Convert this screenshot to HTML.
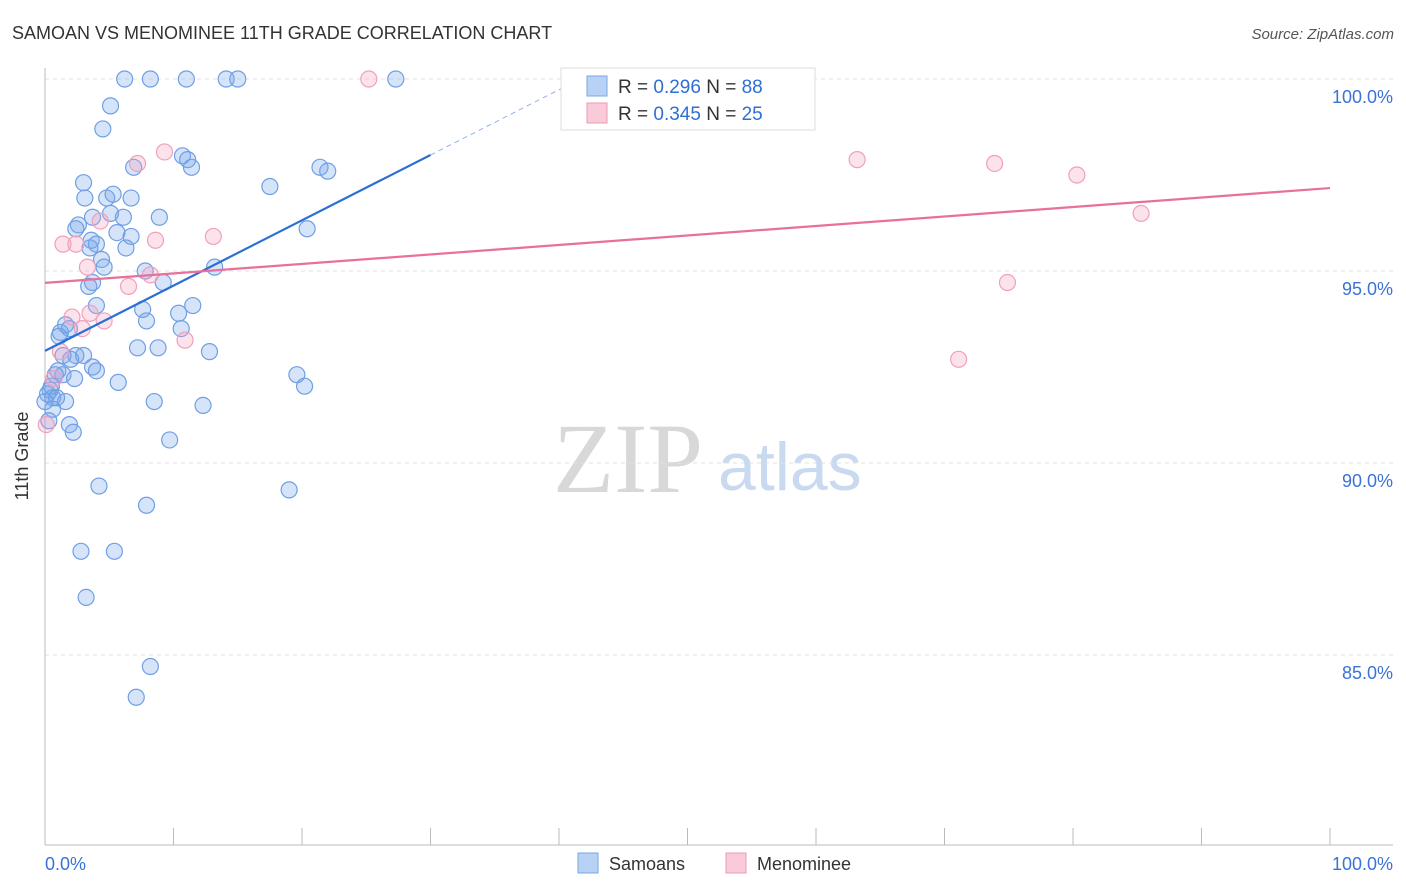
<!DOCTYPE html>
<html><head><meta charset="utf-8"><style>
body{margin:0;background:#fff;font-family:"Liberation Sans",sans-serif;}
</style></head><body>
<svg width="1406" height="892" xmlns="http://www.w3.org/2000/svg" style="display:block">
<text x="12" y="39" font-size="18" fill="#333">SAMOAN VS MENOMINEE 11TH GRADE CORRELATION CHART</text>
<text x="1394" y="39" font-size="15" fill="#555" font-style="italic" text-anchor="end">Source: ZipAtlas.com</text>
<g>
<text x="553" y="492" font-family="Liberation Serif" font-size="100" fill="#d8d8d8">ZIP</text>
<text x="718" y="490" font-size="68" fill="#c9daf0">atlas</text>
</g>
<g id="grid"></g>
<g id="axes"></g>
<text x="28" y="456" font-size="18" fill="#333" text-anchor="middle" transform="rotate(-90 28 456)">11th Grade</text>
<text x="45" y="870" font-size="18" fill="#3a72d8">0.0%</text>
<text x="1393" y="870" font-size="18" fill="#3a72d8" text-anchor="end">100.0%</text>
<g id="pts"></g>
<g id="trends"></g>
<g>
<rect x="561" y="68" width="254" height="62" fill="#fff" stroke="#ddd"/>
<rect x="587" y="76" width="20" height="20" fill="#b8d2f6" stroke="#7aa6e6"/>
<text x="618" y="93" font-size="19" fill="#333">R = <tspan fill="#2e6fd6">0.296</tspan>   N = <tspan fill="#2e6fd6">88</tspan></text>
<rect x="587" y="103" width="20" height="20" fill="#f9cbd9" stroke="#ee9ab5"/>
<text x="618" y="120" font-size="19" fill="#333">R = <tspan fill="#2e6fd6">0.345</tspan>   N = <tspan fill="#2e6fd6">25</tspan></text>
</g>
<g>
<rect x="578" y="853" width="20" height="20" fill="#b8d2f6" stroke="#7aa6e6"/>
<text x="609" y="870" font-size="18" fill="#333">Samoans</text>
<rect x="726" y="853" width="20" height="20" fill="#f9cbd9" stroke="#ee9ab5"/>
<text x="757" y="870" font-size="18" fill="#333">Menominee</text>
</g>
</svg>
<script>
const yTicks=[100,95,90,85];
const yTickLabels=["100.0%","95.0%","90.0%","85.0%"];
const xTicks=[0,10,20,30,40,50,60,70,80,90,100];
const samoanX=[6.2,8.2,11.0,14.1,15.0,27.3,5.1,4.5,10.7,11.1,11.4,6.9,21.4,22.0,17.5,3.0,3.1,4.8,5.3,6.7,8.9,6.1,5.1,3.7,2.6,2.4,5.6,6.7,20.4,3.6,4.0,6.3,3.5,4.4,4.6,7.8,13.2,3.7,3.4,9.2,4.0,11.5,7.6,10.4,7.9,1.6,1.2,1.9,10.6,7.2,8.8,12.8,3.0,2.4,1.4,3.7,4.0,1.0,1.4,2.3,5.7,19.6,20.2,0.8,0.4,0.6,1.6,8.5,12.3,0.6,0.3,1.9,2.2,9.7,4.2,19.0,7.9,2.8,5.4,3.2,8.2,7.1,0.2,0.5,0.0,0.9,1.1,2.0];
const samoanY=[100,100,100,100,100,100,99.3,98.7,98.0,97.9,97.7,97.7,97.7,97.6,97.2,97.3,96.9,96.9,97.0,96.9,96.4,96.4,96.5,96.4,96.2,96.1,96.0,95.9,96.1,95.8,95.7,95.6,95.6,95.3,95.1,95.0,95.1,94.7,94.6,94.7,94.1,94.1,94.0,93.9,93.7,93.6,93.4,93.5,93.5,93.0,93.0,92.9,92.8,92.8,92.8,92.5,92.4,92.4,92.3,92.2,92.1,92.3,92.0,92.3,91.9,91.7,91.6,91.6,91.5,91.4,91.1,91.0,90.8,90.6,89.4,89.3,88.9,87.7,87.7,86.5,84.7,83.9,91.8,92.0,91.6,91.7,93.3,92.7];
const menomineeX=[25.2,7.2,9.3,63.2,73.9,80.3,85.3,74.9,71.1,1.4,2.4,4.3,13.1,8.6,3.3,8.2,6.5,2.1,3.5,4.6,2.9,10.9,1.2,0.7,0.1];
const menomineeY=[100,97.8,98.1,97.9,97.8,97.5,96.5,94.7,92.7,95.7,95.7,96.3,95.9,95.8,95.1,94.9,94.6,93.8,93.9,93.7,93.5,93.2,92.9,92.2,91.0];
const samoanTrend=[92.92,98.02]; // y at x=0 and x=30
const samoanTrendX=[0,30,41.3];
const menomineeTrend=[94.69,97.16]; // y at x=0 and x=100
const X0=45,X1=1330,Y100=79,PXPER=38.4;
const sx=v=>X0+(X1-X0)*v/100;
const sy=v=>Y100+(100-v)*PXPER;
const NS="http://www.w3.org/2000/svg";
function mk(tag,attrs,parent){const e=document.createElementNS(NS,tag);for(const k in attrs)e.setAttribute(k,attrs[k]);parent.appendChild(e);return e;}
const grid=document.getElementById('grid');
yTicks.forEach((t,i)=>{
 const l=mk('line',{x1:45,x2:1393,y1:sy(t),y2:sy(t),stroke:'#e2e2e2','stroke-dasharray':'4,4'},grid);
 
 
 const tx=mk('text',{x:1393,y:sy(t)+24,'font-size':18,fill:'#3a72d8','text-anchor':'end'},grid);
 tx.textContent=yTickLabels[i];
 
 
});
const axes=document.getElementById('axes');
const ya=mk('line',{x1:45,x2:45,y1:68,y2:845,stroke:'#bbb'},axes);


const xa=mk('line',{x1:45,x2:1393,y1:845,y2:845,stroke:'#bbb'},axes);


xTicks.forEach(t=>{
 const k=mk('line',{x1:sx(t),x2:sx(t),y1:828,y2:845,stroke:'#bbb'},axes);
 
 
});
const pts=document.getElementById('pts');
samoanX.forEach((x,i)=>{
 const c=mk('circle',{cx:sx(x),cy:sy(samoanY[i]),r:8,fill:'rgba(120,165,235,0.3)',stroke:'#6f9fe4','stroke-width':1.2},pts);
 
 
});
menomineeX.forEach((x,i)=>{
 const c=mk('circle',{cx:sx(x),cy:sy(menomineeY[i]),r:8,fill:'rgba(245,160,190,0.3)',stroke:'#f0a0bb','stroke-width':1.2},pts);
 
 
});
const tr=document.getElementById('trends');
const bs=(samoanTrend[1]-samoanTrend[0])/30;
const b1=mk('line',{x1:sx(0),y1:sy(samoanTrend[0]),x2:sx(samoanTrendX[1]),y2:sy(samoanTrend[1]),stroke:'#2a6fd6','stroke-width':2.2},tr);


const b2=mk('line',{x1:sx(samoanTrendX[1]),y1:sy(samoanTrend[1]),x2:sx(samoanTrendX[2]),y2:sy(samoanTrend[0]+bs*samoanTrendX[2]),stroke:'#8fb3ea','stroke-width':1,'stroke-dasharray':'5,4'},tr);


const p1=mk('line',{x1:sx(0),y1:sy(menomineeTrend[0]),x2:sx(100),y2:sy(menomineeTrend[1]),stroke:'#e8709a','stroke-width':2.2},tr);


</script>
</body></html>
